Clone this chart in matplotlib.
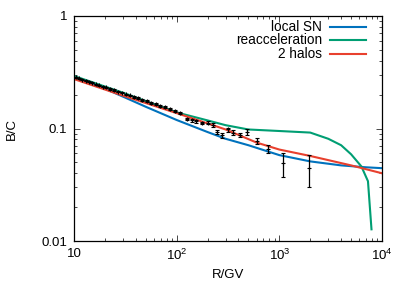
import matplotlib.pyplot as plt
import numpy as np

plt.rcParams['font.family'] = ['Liberation Sans', 'DejaVu Sans']
plt.rcParams['mathtext.fontset'] = 'custom'
plt.rcParams['mathtext.rm'] = 'Liberation Sans'

# model curves (R in GV, B/C)
r_local = [10, 20, 30, 50, 100, 200, 300, 500, 1000, 2000, 4000, 7000, 10000]
bc_local = [0.287, 0.226, 0.192, 0.156, 0.119, 0.093, 0.081, 0.071, 0.058, 0.051, 0.047, 0.0452, 0.0444]

r_reacc = [10, 30, 100, 200, 300, 500, 1000, 2000, 3000, 4000, 5000, 6300, 7300, 7900]
bc_reacc = [0.293, 0.208, 0.139, 0.118, 0.107, 0.098, 0.095, 0.092, 0.081, 0.071, 0.059, 0.046, 0.034, 0.0127]

r_halos = [10, 30, 100, 300, 600, 1000, 2000, 5000, 10000]
bc_halos = [0.275, 0.196, 0.137, 0.098, 0.075, 0.065, 0.057, 0.047, 0.040]

# data points
r_data = [10.5, 11.3, 12.1, 13.0, 14.0, 15.1, 16.3, 17.6, 19.0, 20.6, 22.4, 24.4,
          26.6, 29.1, 31.9, 35.0, 38.4, 42.2, 46.4, 51.1, 56.4, 62.4, 69.2, 77.0,
          86.0, 96.5, 108, 125, 140, 155, 175, 200, 224,
          245, 278, 314, 356, 413, 485, 600, 775, 1090, 1950]
bc_data = [0.286, 0.279, 0.272, 0.267, 0.260, 0.255, 0.248, 0.243, 0.236, 0.232, 0.225, 0.220,
           0.213, 0.208, 0.201, 0.197, 0.190, 0.186, 0.179, 0.175, 0.168, 0.164, 0.158, 0.154,
           0.148, 0.143, 0.138, 0.122, 0.118, 0.116, 0.112, 0.113, 0.107,
           0.093, 0.087, 0.098, 0.092, 0.088, 0.093, 0.078, 0.066, 0.049, 0.0445]
bc_err = [0.003, 0.003, 0.003, 0.003, 0.003, 0.003, 0.003, 0.003, 0.003, 0.003, 0.003, 0.003,
          0.003, 0.003, 0.003, 0.003, 0.003, 0.003, 0.003, 0.003, 0.003, 0.003, 0.003, 0.003,
          0.003, 0.003, 0.003, 0.003, 0.003, 0.003, 0.003, 0.004, 0.004,
          0.004, 0.004, 0.004, 0.004, 0.004, 0.005, 0.005, 0.005, 0.012, 0.014]

c_local = '#0072bd'
c_reacc = '#009e73'
c_halos = '#e8402e'

fig = plt.figure(figsize=(4.07, 2.85), dpi=100)
ax = fig.add_axes([74 / 407, 1 - 241 / 285, 308 / 407, 225 / 285])

ax.errorbar(r_data, bc_data, yerr=bc_err, fmt='+', color='black', ms=3, mew=0.8,
            elinewidth=0.9, capsize=1.5, capthick=0.9, zorder=3)
ax.plot(r_local, bc_local, color=c_local, lw=1.5, zorder=2)
ax.plot(r_reacc, bc_reacc, color=c_reacc, lw=1.5, zorder=2)
ax.plot(r_halos, bc_halos, color=c_halos, lw=1.5, zorder=2)

ax.set_xscale('log')
ax.set_yscale('log')
ax.set_xlim(10, 1e4)
ax.set_ylim(0.01, 1)
ax.set_xticks([10, 100, 1000, 10000])
ax.set_xticklabels(['10', '10$^2$', '10$^3$', '10$^4$'])
ax.set_yticks([0.01, 0.1, 1])
ax.set_yticklabels(['0.01', '0.1', '1'])
ax.tick_params(which='both', direction='in', top=True, right=True, labelsize=9.5, pad=5)
ax.tick_params(which='major', length=4, width=0.5)
ax.tick_params(which='minor', length=2, width=0.5)
for s in ax.spines.values():
    s.set_linewidth(0.9)

ax.set_xlabel('R/GV', fontsize=9.5, labelpad=4)
ax.set_ylabel('B/C', fontsize=9.5, labelpad=17)

# legend, gnuplot style: text right-aligned, sample to the right
labels = ['local SN', 'reacceleration', '2 halos']
colors = [c_local, c_reacc, c_halos]
ys = [26.7, 40.3, 54]
for lab, col, yp in zip(labels, colors, ys):
    yy = 1 - (yp - 16) / 225
    ax.text((322 - 74) / 308, yy, lab, transform=ax.transAxes, ha='right', va='center', fontsize=9.8)
    ax.plot([(330 - 74) / 308, (366 - 74) / 308], [yy, yy], color=col, lw=1.5,
            transform=ax.transAxes, clip_on=False)

fig.savefig('out.png', dpi=100)
